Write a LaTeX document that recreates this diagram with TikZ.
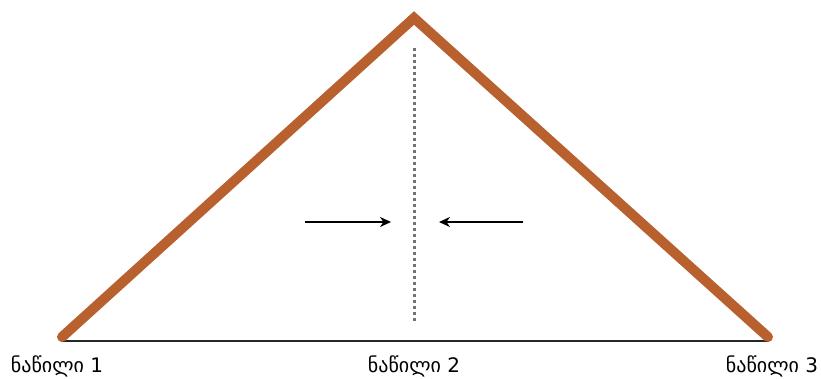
\documentclass[tikz,border=0pt]{standalone}
\usepackage{fontspec}
\newfontfamily\geofont{DejaVu Sans}
\usetikzlibrary{arrows.meta}
\definecolor{roofbrown}{RGB}{184,96,46}
\tikzset{
  roof/.style={roofbrown, line width=10pt, line cap=round, line join=miter},
  part/.style={font=\geofont\fontsize{20}{22}\selectfont, inner sep=0pt},
  push/.style={-{Stealth[length=11pt,width=10pt]}, line width=2pt}
}
\begin{document}
\begin{tikzpicture}[x=1pt, y=-1pt]
    \useasboundingbox (0,0) rectangle (821,378);
    \coordinate (left) at (62,337);
    \coordinate (apex) at (414,18);
    \coordinate (right) at (768,337);
    \coordinate (base l) at (62,341);
    \coordinate (base r) at (768,341);
    \coordinate (mid top) at (414,48);
    \coordinate (mid bot) at (414,323);
    \draw[black!85, line width=1.5pt] (base l) -- (base r);
    \draw[roof] (left) -- (apex) -- (right);
    \draw[gray!90!black, line width=3pt, dash pattern=on 3pt off 3pt] (mid top) -- (mid bot);
    % arrows pushing toward the middle
    \coordinate (pl) at (305,222);
    \coordinate (pl end) at (391,222);
    \coordinate (pr) at (523,222);
    \coordinate (pr end) at (439,222);
    \draw[push] (pl) -- (pl end);
    \draw[push] (pr) -- (pr end);
    \node[part] (part1) at (57,366) {ნაწილი 1};
    \node[part] (part2) at (414,366) {ნაწილი 2};
    \node[part] (part3) at (772,366) {ნაწილი 3};
\end{tikzpicture}
\end{document}
